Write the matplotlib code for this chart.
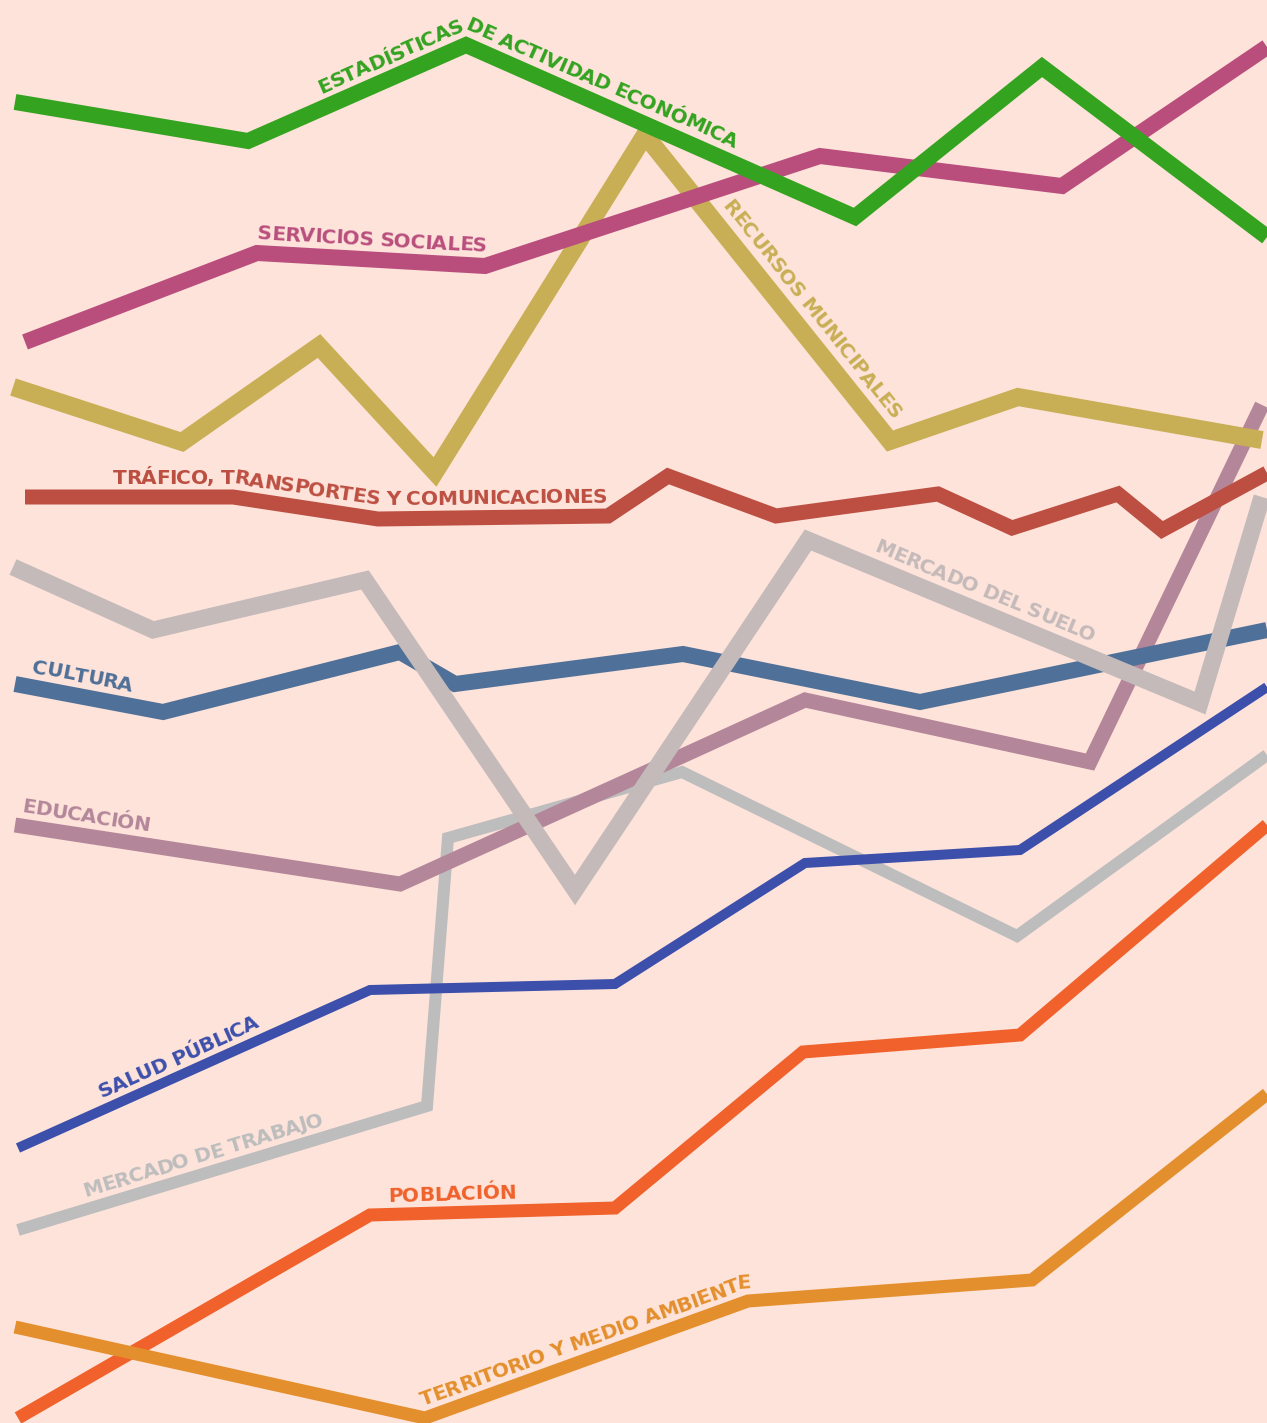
import matplotlib
matplotlib.use("Agg")
import matplotlib.pyplot as plt
import numpy as np
from matplotlib.font_manager import FontProperties, findfont, get_font

W, H = 1267, 1423
BG = "#FEE3DA"

# series values (x position, value), value axis runs upward
eco_x = [15, 248, 466, 855, 1042, 1267]
eco_y = [1321, 1282, 1378, 1206, 1356, 1186]

serv_x = [25, 257, 485, 820, 1062, 1267]
serv_y = [1081, 1170, 1157, 1267, 1237, 1376]

recur_x = [13, 182, 319, 435, 645, 890, 1018, 1262]
recur_y = [1036, 981, 1077, 951, 1288, 982, 1026, 983]

traf_x = [25, 233, 378, 608, 668, 776, 938, 1012, 1118, 1162, 1267]
traf_y = [926, 926, 904, 907, 947, 907, 929, 895, 929, 893, 950]

suelo_x = [13, 153, 365, 575, 808, 1200, 1262]
suelo_y = [856, 793, 843, 533, 883, 720, 926]

cult_x = [15, 163, 400, 455, 683, 920, 1267]
cult_y = [739, 711, 771, 739, 769, 721, 793]

educ_x = [15, 400, 680, 805, 1090, 1262]
educ_y = [598, 539, 666, 723, 661, 1018]

salud_x = [18, 370, 615, 805, 1020, 1267]
salud_y = [275, 433, 439, 560, 573, 736]

trab_x = [18, 427, 448, 682, 1017, 1267]
trab_y = [193, 317, 585, 651, 487, 668]

pobl_x = [18, 370, 615, 803, 1020, 1267]
pobl_y = [5, 208, 215, 371, 388, 598]

terr_x = [15, 425, 748, 1032, 1267]
terr_y = [96, 5, 122, 143, 329]

labels = ["Estadísticas de actividad económica", "Servicios sociales",
          "Recursos municipales", "Tráfico, transportes y comunicaciones",
          "Mercado del suelo", "Cultura", "Educación", "Salud pública",
          "Mercado de trabajo", "Población", "Territorio y medio ambiente"]
xs_all = [eco_x, serv_x, recur_x, traf_x, suelo_x, cult_x, educ_x,
          salud_x, trab_x, pobl_x, terr_x]
ys_all = [eco_y, serv_y, recur_y, traf_y, suelo_y, cult_y, educ_y,
          salud_y, trab_y, pobl_y, terr_y]

colors = ["#33A320", "#B94E7D", "#C8AF55", "#BC4F42", "#C4BABA", "#4F7098",
          "#B4869A", "#3C4FAB", "#BDBDBD", "#F0612B", "#E48F2D"]
widths = [16, 16, 18, 15, 17, 16, 15, 10, 12, 13, 13]
zorders = [6.5, 6, 5.5, 7, 5, 4, 3, 6, 2, 6, 6]
# where each label starts along its line
label_start = [310, 257, 1038, 88, 1217, 14, 4, 97, 74, 435, 411]

FS = 14.5
TRACK = -0.5
MID = 7  # half cap height, spacing is measured at glyph mid-height
prop = FontProperties(family="DejaVu Sans", weight="bold", size=FS)
font = get_font(findfont(prop))
font.set_size(FS, 100)


def advances(text):
    out = []
    for ch in text:
        g = font.load_char(ord(ch))
        out.append(g.linearHoriAdvance / 65536 + TRACK)
    return np.array(out)


def offset_line(xs, ys, d):
    p = np.column_stack([xs, ys]).astype(float)
    v = np.diff(p, axis=0)
    v /= np.hypot(v[:, 0], v[:, 1])[:, None]
    n = np.column_stack([-v[:, 1], v[:, 0]])
    q = [p[0] + d * n[0]]
    for k in range(1, len(p) - 1):
        m = n[k - 1] + n[k]
        q.append(p[k] + d * m / (1 + n[k - 1] @ n[k]))
    q.append(p[-1] + d * n[-1])
    return np.array(q)


def text_on_line(ax, xs, ys, text, start, offset, color, z):
    q = offset_line(xs, ys, offset + MID)
    seg = np.hypot(*np.diff(q, axis=0).T)
    cum = np.concatenate([[0], np.cumsum(seg)])
    adv = advances(text)
    pos = start + np.cumsum(adv) - adv / 2
    for ch, s in zip(text, pos):
        i = int(np.clip(np.searchsorted(cum, s, side="right") - 1, 0, len(q) - 2))
        t = (s - cum[i]) / seg[i]
        px, py = q[i] + t * (q[i + 1] - q[i])
        a = np.arctan2(q[i + 1, 1] - q[i, 1], q[i + 1, 0] - q[i, 0])
        px += np.sin(a) * MID
        py -= np.cos(a) * MID
        ax.text(px, py, ch, fontproperties=prop, color=color,
                rotation=np.degrees(a), rotation_mode="anchor",
                ha="center", va="baseline", zorder=z + 0.05)


fig = plt.figure(figsize=(W / 100, H / 100), dpi=100, facecolor=BG)
ax = fig.add_axes([0, 0, 1, 1])
ax.set_facecolor(BG)
ax.set_xlim(0, W)
ax.set_ylim(0, H)
ax.axis("off")

for xs, ys, name, c, lw, z, st in zip(xs_all, ys_all, labels, colors,
                                      widths, zorders, label_start):
    ax.plot(xs, ys, color=c, lw=lw * 0.72, solid_joinstyle="miter",
            solid_capstyle="butt", zorder=z)
    text_on_line(ax, xs, ys, name.upper(), st, lw / 2 + 6, c, z)

fig.savefig("out.png", dpi=100, facecolor=BG)
